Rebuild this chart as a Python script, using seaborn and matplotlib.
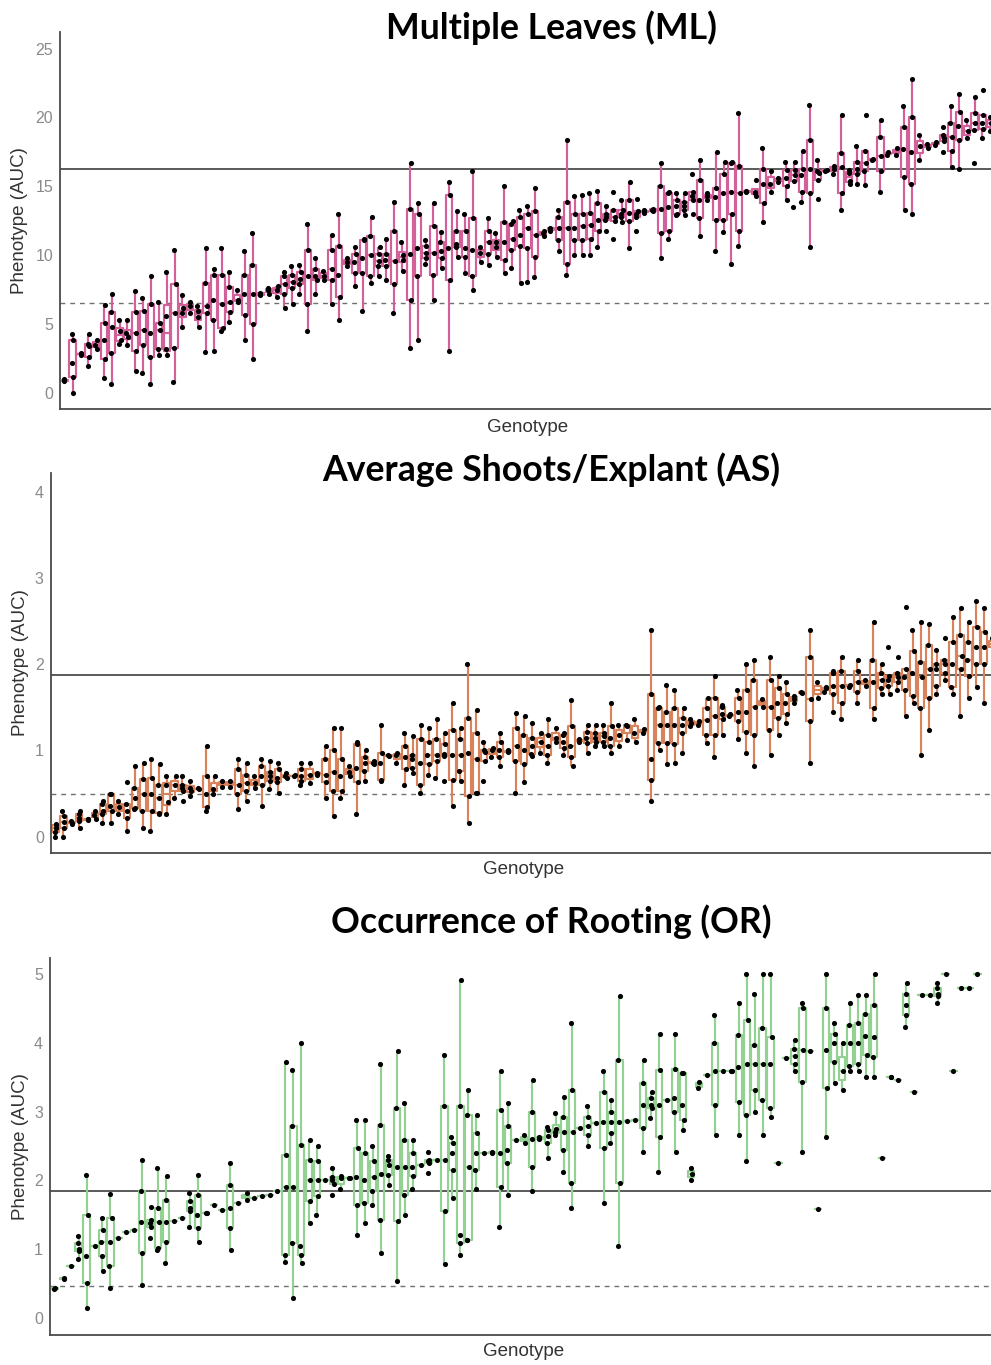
import numpy as np
import pandas as pd
import matplotlib
matplotlib.use("Agg")
import matplotlib.pyplot as plt
import seaborn as sns

# ---------------- data ----------------
ML_TITLE = "Multiple Leaves (ML)"
AS_TITLE = "Average Shoots/Explant (AS)"
OR_TITLE = "Occurrence of Rooting (OR)"

ML_VALUES = [
    [0.9, 1.0], [0.0, 1.2, 2.2, 3.9, 4.3], [2.8, 2.9, 2.85], [2.0, 2.65, 3.4, 3.6, 4.3],
    [3.2, 3.5, 3.9], [1.1, 2.5, 3.9, 5.1, 6.4], [0.7, 2.9, 4.8, 5.9, 7.2], [3.6, 3.9, 4.5, 5.3],
    [3.5, 4.1, 4.4, 5.3], [1.6, 3.1, 4.4, 5.9, 7.4], [1.5, 3.5, 4.6, 6.0, 6.9], [0.7, 2.65, 4.4, 6.5, 8.5],
    [2.8, 3.2, 4.6, 5.1, 6.6], [2.8, 3.2, 5.6, 8.8], [0.85, 3.3, 5.8, 7.9, 10.4], [4.8, 5.8, 6.2, 7.1],
    [5.8, 6.3, 6.6], [4.8, 5.5, 6.0, 6.3], [3.0, 5.8, 6.3, 8.0, 10.5], [3.1, 5.3, 6.8, 8.6, 9.0],
    [4.5, 4.7, 6.5, 8.6, 10.5], [5.2, 5.9, 6.6, 7.7, 8.8], [6.6, 6.8, 7.5], [3.9, 5.7, 7.2, 8.6, 10.3],
    [2.5, 5.0, 7.2, 9.3, 11.6], [7.1, 7.2, 7.3], [7.2, 7.5, 7.6], [7.0, 7.5, 7.8],
    [6.2, 7.2, 7.9, 8.5, 8.8], [6.5, 7.6, 8.1, 8.6, 9.2], [7.2, 7.9, 8.3, 8.8, 9.3], [4.5, 6.5, 8.5, 10.4, 12.3],
    [7.2, 8.2, 8.5, 9.0, 9.8], [8.2, 8.5, 8.9], [6.5, 8.2, 9.0, 10.4, 11.5], [5.3, 7.0, 8.6, 10.7, 13.0],
    [9.2, 9.5, 9.8], [7.8, 8.7, 9.5, 10.1, 10.6], [6.0, 8.7, 9.8, 11.1, 11.2], [8.0, 8.5, 10.0, 11.4, 12.8],
    [8.5, 9.2, 9.6, 10.1, 10.6], [8.2, 9.2, 9.7, 10.1, 11.2], [5.8, 7.9, 9.6, 11.8, 13.9], [8.9, 9.7, 10.0, 11.0],
    [3.3, 6.8, 10.1, 13.4, 16.7], [3.9, 8.5, 10.5, 13.0, 13.8], [9.4, 9.8, 10.2, 10.7, 11.1], [6.8, 8.6, 10.2, 12.1, 13.8],
    [9.1, 9.8, 10.3, 11.0, 11.7], [3.1, 8.2, 10.5, 14.4, 15.3], [9.9, 10.6, 10.8, 11.8, 13.2], [8.7, 9.9, 10.5, 11.8, 13.0],
    [7.5, 8.5, 10.4, 12.7, 16.1], [9.5, 10.2, 10.6], [9.3, 10.1, 11.0, 11.8, 12.7], [9.9, 10.6, 11.0, 11.6],
    [8.7, 9.7, 11.0, 12.4, 15.0], [9.1, 10.4, 11.2, 12.3, 12.5], [8.0, 10.7, 11.5, 12.8, 13.3], [8.1, 10.5, 12.0, 13.0, 13.6],
    [8.4, 9.9, 11.5, 13.2, 14.9], [11.4, 11.6, 11.8], [11.8, 12.0], [10.3, 11.1, 12.0, 12.8, 13.3],
    [8.6, 9.4, 12.0, 13.9, 18.4], [10.0, 11.1, 12.0, 13.0, 14.3], [10.0, 11.1, 12.1, 13.0, 14.4], [10.0, 11.2, 12.2, 13.1, 14.5],
    [10.6, 11.8, 12.6, 13.8, 14.7], [11.8, 12.6, 12.8, 13.0, 13.6], [11.2, 12.5, 12.8, 13.3, 14.6], [12.4, 12.8, 13.0, 13.3, 14.0],
    [10.5, 12.5, 13.1, 14.0, 15.3], [11.8, 12.8, 13.0, 13.2, 14.1], [13.1, 13.2, 13.3], [13.2, 13.3, 13.4],
    [9.8, 11.6, 13.4, 15.0, 16.7], [11.2, 11.8, 13.5, 14.5, 14.6], [12.9, 13.0, 13.6, 14.0, 14.5], [12.9, 13.3, 13.6, 13.9, 14.5],
    [13.0, 14.0, 14.3, 14.6, 15.9], [11.4, 12.7, 14.0, 15.5, 16.9], [14.0, 14.3, 14.5], [10.3, 12.6, 14.2, 14.9, 17.5],
    [11.7, 12.6, 14.5, 15.9, 16.8], [9.4, 13.0, 14.6, 16.7, 16.8], [10.7, 11.8, 14.5, 16.5, 20.3], [14.6, 14.7],
    [14.3, 14.5, 14.6, 15.5], [12.4, 13.8, 15.2, 16.3, 17.8], [14.6, 15.2, 16.1], [15.3, 15.6],
    [14.0, 15.0, 15.6, 16.2, 16.8], [13.5, 15.4, 15.8, 16.2, 16.8], [13.9, 14.6, 15.8, 16.3, 17.6], [10.6, 14.5, 16.3, 18.4, 20.9],
    [14.1, 15.5, 16.0, 16.1, 16.9], [16.1, 16.2], [15.9, 16.3, 16.5], [13.3, 14.5, 16.4, 17.4, 20.2],
    [15.2, 15.4, 16.0, 16.2], [15.2, 15.9, 16.3, 16.8, 17.9], [15.1, 16.1, 16.7, 17.6, 20.2], [16.9, 17.0],
    [14.6, 16.1, 17.2, 18.6, 19.8], [17.3, 17.5], [17.3, 17.8], [13.3, 15.7, 17.7, 19.3, 20.8],
    [13.0, 15.2, 17.5, 20.0, 22.8], [16.9, 17.9, 18.7], [17.8, 18.1], [18.0, 18.2],
    [17.5, 18.3, 18.5, 18.7, 19.3], [16.4, 17.6, 18.6, 19.6, 20.8], [16.3, 18.4, 19.4, 20.4, 21.7], [18.5, 19.0, 19.8],
    [16.7, 19.1, 19.6, 20.3, 21.5], [18.5, 19.2, 19.6, 20.2, 22.0], [19.0, 19.6, 20.0],
]

AS_VALUES = [
    [0.0, 0.05, 0.1, 0.13, 0.15], [0.0, 0.1, 0.17, 0.24, 0.3], [0.15, 0.16, 0.18], [0.1, 0.18, 0.22, 0.26, 0.3],
    [0.19, 0.2, 0.21], [0.2, 0.25, 0.3], [0.16, 0.26, 0.3, 0.38, 0.41], [0.16, 0.3, 0.35, 0.49, 0.5],
    [0.26, 0.34, 0.41], [0.07, 0.22, 0.3, 0.38, 0.63], [0.32, 0.33, 0.45, 0.57, 0.82], [0.1, 0.3, 0.5, 0.67, 0.86],
    [0.07, 0.3, 0.5, 0.68, 0.9], [0.26, 0.28, 0.45, 0.6, 0.84], [0.26, 0.4, 0.6, 0.7], [0.45, 0.6, 0.7],
    [0.41, 0.53, 0.57, 0.6, 0.7], [0.47, 0.53, 0.57, 0.65], [0.55, 0.56], [0.3, 0.34, 0.5, 0.7, 1.05],
    [0.5, 0.55, 0.7], [0.58, 0.65], [0.58, 0.65], [0.32, 0.49, 0.6, 0.78, 0.9],
    [0.41, 0.53, 0.62, 0.72, 0.86], [0.57, 0.62, 0.7], [0.36, 0.6, 0.7, 0.82, 0.9], [0.55, 0.65, 0.7, 0.75, 0.88],
    [0.51, 0.63, 0.68, 0.78, 0.86], [0.68, 0.7, 0.74], [0.7, 0.71], [0.6, 0.65, 0.7, 0.78, 0.86],
    [0.62, 0.72, 0.86], [0.72, 0.74], [0.45, 0.63, 0.72, 0.9, 1.05], [0.24, 0.53, 0.75, 1.0, 1.26],
    [0.45, 0.53, 0.7, 0.9, 1.26], [0.7, 0.75, 0.82], [0.26, 0.63, 0.8, 1.07, 1.1], [0.65, 0.76, 0.85, 0.92, 1.0],
    [0.84, 0.86, 0.88], [0.65, 0.66, 0.85, 0.97, 1.3], [0.93, 0.95], [0.86, 0.95, 0.97],
    [0.6, 0.78, 0.92, 1.05, 1.2], [0.74, 0.8, 0.9, 0.95, 1.17], [0.51, 0.6, 0.85, 1.13, 1.3], [0.72, 0.84, 0.95, 1.1, 1.26],
    [0.68, 0.88, 0.95, 1.13, 1.36], [0.65, 0.93, 0.96, 1.07, 1.2], [0.36, 0.66, 0.95, 1.24, 1.55], [0.65, 0.76, 0.95, 1.13, 1.26],
    [0.16, 0.47, 0.97, 1.38, 2.0], [0.51, 0.51, 0.9, 1.2, 1.47], [0.65, 0.88, 0.98, 1.0, 1.1], [0.92, 1.0, 1.03],
    [0.82, 0.92, 1.0, 1.1, 1.2], [0.98, 1.0], [0.51, 0.88, 1.05, 1.26, 1.43], [0.63, 0.84, 1.0, 1.18, 1.4],
    [0.94, 0.96, 1.05, 1.15, 1.32], [0.97, 1.1, 1.2], [0.86, 0.95, 1.05, 1.18, 1.36], [1.1, 1.15, 1.26],
    [0.95, 1.03, 1.1, 1.18, 1.2], [0.82, 0.92, 1.05, 1.28, 1.59], [1.1, 1.13], [0.97, 1.09, 1.15, 1.22, 1.3],
    [1.05, 1.1, 1.15, 1.2, 1.3], [1.05, 1.1, 1.17, 1.2, 1.3], [0.97, 1.05, 1.15, 1.28, 1.55], [1.05, 1.18, 1.3],
    [1.12, 1.28, 1.3], [1.1, 1.2, 1.36], [1.2, 1.25], [0.41, 0.66, 0.9, 1.65, 2.4], [1.0, 1.09, 1.3, 1.49, 1.51],
    [0.84, 1.09, 1.3, 1.45, 1.76], [0.86, 1.07, 1.3, 1.49, 1.7], [0.97, 1.2, 1.3, 1.38, 1.49], [1.28, 1.32, 1.36],
    [1.3, 1.34],
    [1.09, 1.18, 1.35, 1.49, 1.61], [0.92, 1.18, 1.4, 1.61, 1.86], [1.18, 1.36, 1.42, 1.5, 1.53], [1.4, 1.42],
    [1.13, 1.34, 1.45, 1.61, 1.7], [0.97, 1.22, 1.45, 1.7, 2.0], [0.82, 1.18, 1.5, 1.82, 2.05], [1.51, 1.6],
    [0.95, 1.24, 1.5, 1.82, 2.09], [1.18, 1.38, 1.55, 1.72, 1.86], [1.32, 1.42, 1.55, 1.65, 1.8], [1.55, 1.6, 1.63],
    [1.67, 1.68], [0.86, 1.34, 1.6, 2.09, 2.4], [1.61, 1.8], [1.68, 1.72, 1.74],
    [1.45, 1.66, 1.75, 1.9, 1.92], [1.36, 1.55, 1.75, 1.92, 2.09], [1.74, 1.76], [1.55, 1.68, 1.8, 1.92, 2.05],
    [1.75, 1.82], [1.36, 1.49, 1.8, 2.05, 2.49], [1.65, 1.72, 1.82, 1.9, 2.0], [1.65, 1.75, 1.82, 1.86, 2.2],
    [1.7, 1.8, 1.85, 1.9, 2.09], [1.4, 1.7, 1.85, 1.95, 2.67], [1.55, 1.63, 1.9, 2.15, 2.4], [0.95, 1.49, 1.85, 2.03, 2.49],
    [1.24, 1.61, 1.95, 2.22, 2.47], [1.65, 1.75, 1.95, 2.0, 2.17], [1.82, 1.9, 2.0, 2.05, 2.3], [1.65, 1.74, 2.0, 2.26, 2.55],
    [1.4, 1.95, 2.1, 2.34, 2.65], [1.61, 1.86, 2.05, 2.26, 2.49], [1.74, 2.0, 2.2, 2.43, 2.74], [1.55, 2.0, 2.2, 2.38, 2.65],
    [2.17, 2.3],
]

OR_VALUES = [
    [0.42, 0.44], [0.57, 0.58], [0.75], [0.85, 0.97, 1.0, 1.09, 1.19],
    [0.14, 0.5, 0.9, 1.5, 2.08], [1.04], [0.68, 0.9, 1.1, 1.28, 1.45], [0.44, 0.75, 1.1, 1.45, 1.8],
    [1.16], [1.25], [1.28], [0.48, 0.94, 1.4, 1.84, 2.3],
    [1.16, 1.33, 1.38, 1.43, 1.62], [0.99, 1.02, 1.4, 1.6, 2.18], [0.8, 1.11, 1.4, 1.72, 2.06], [1.41],
    [1.45], [1.33, 1.55, 1.6, 1.7, 1.82], [1.11, 1.31, 1.5, 1.79, 2.08], [1.52, 1.53],
    [1.65], [1.57], [0.99, 1.31, 1.6, 1.94, 2.25], [1.67],
    [1.72, 1.82], [1.74], [1.77], [1.79], [1.84],
    [0.82, 0.92, 1.9, 2.37, 3.73], [0.29, 1.09, 1.91, 2.79, 3.61], [0.8, 0.92, 1.04, 2.52, 4.0], [1.38, 1.7, 2.0, 2.3, 2.59],
    [1.5, 1.77, 2.0, 2.28, 2.5], [2.01], [1.79, 1.95, 2.0, 2.05, 2.18], [1.87, 2.03, 2.06],
    [2.03, 2.04], [1.21, 1.65, 2.05, 2.47, 2.88], [1.38, 1.67, 2.0, 2.4, 2.88], [1.65, 1.84, 2.05, 2.28, 2.5],
    [0.94, 1.43, 2.1, 2.81, 3.7], [1.94, 2.08, 2.23, 2.3, 2.35], [0.53, 1.41, 2.2, 3.05, 3.88], [1.5, 1.79, 2.2, 2.59, 3.13],
    [1.87, 2.06, 2.2, 2.4, 2.59], [2.23], [2.11, 2.25, 2.28, 2.3, 2.42], [2.3],
    [0.78, 1.55, 2.3, 3.08, 3.83], [1.74, 2.16, 2.4, 2.54, 2.64], [0.92, 1.09, 1.2, 3.08, 4.92], [1.14, 1.14, 2.2, 2.96, 3.32],
    [1.87, 2.16, 2.4, 2.69, 2.96], [2.4], [2.4, 2.42], [1.33, 1.91, 2.4, 3.03, 3.59],
    [1.79, 2.25, 2.45, 2.79, 3.13], [2.59], [2.54, 2.66], [1.84, 2.2, 2.6, 3.0, 3.46],
    [2.6, 2.64], [2.33, 2.55, 2.65, 2.74, 2.78], [2.66, 2.7, 2.75, 2.98], [2.13, 2.45, 2.7, 2.93, 3.22],
    [1.6, 1.96, 2.7, 3.32, 4.29], [2.76], [2.5, 2.66, 2.8, 2.93, 3.08], [2.83],
    [1.67, 2.47, 2.85, 3.29, 3.59], [2.54, 2.69, 2.85, 3.0, 3.17], [1.04, 1.96, 2.85, 3.75, 4.68], [2.86],
    [2.88], [2.42, 2.76, 3.1, 3.42, 3.75], [2.91, 3.05, 3.1, 3.2, 3.29], [2.13, 2.64, 3.1, 3.61, 4.14],
    [3.17], [2.42, 3.0, 3.2, 3.63, 4.14], [2.74, 2.88, 3.1, 3.56, 3.56], [2.01, 2.1, 2.18],
    [3.34, 3.44], [3.54], [2.66, 3.1, 3.6, 4.0, 4.41], [3.59],
    [3.59, 3.6], [2.66, 3.15, 3.65, 4.12, 4.58], [2.28, 2.96, 3.7, 4.34, 5.0], [3.0, 3.32, 3.7, 3.97, 4.72],
    [2.66, 3.17, 3.7, 4.22, 5.0], [2.93, 3.05, 3.7, 4.09, 5.0], [2.25], [3.78],
    [3.59, 3.7, 3.82, 3.92, 4.05], [2.42, 3.44, 3.9, 4.51, 4.58], [3.88], [1.58],
    [2.64, 3.34, 3.9, 4.51, 5.0], [3.42, 3.73, 4.0, 4.14, 4.29], [3.32, 3.6, 4.0], [3.59, 3.66, 4.0, 4.26, 4.58],
    [3.59, 3.7, 4.0, 4.29, 4.7], [3.51, 3.83, 4.1, 4.43, 4.7], [3.51, 3.8, 4.09, 4.55, 5.0], [2.33],
    [3.5, 3.51], [3.46], [4.24, 4.41, 4.55, 4.72, 4.87], [3.29],
    [4.7], [4.7], [4.58, 4.68, 4.72, 4.8, 4.87], [5.0],
    [3.59], [4.8], [4.8], [5.0],
]

ML_LINES = (16.3, 6.57)   # solid, dashed
AS_LINES = (1.87, 0.50)
OR_LINES = (1.85, 0.47)

ML_YTICKS = [0, 5, 10, 15, 20, 25]
AS_YTICKS = [0, 1, 2, 3, 4]
OR_YTICKS = [0, 1, 2, 3, 4, 5]

N_GENOTYPES = 119
X_LABEL = "Genotype"
Y_LABEL = "Phenotype (AUC)"

ML_COLOR = "#d4609a"
AS_COLOR = "#d9835c"
OR_COLOR = "#93d193"

# ---------------- style ----------------
sns.set_style("white")
plt.rcParams["font.family"] = ["Liberation Sans", "DejaVu Sans"]

W, H = 991, 1365
fig = plt.figure(figsize=(W / 100, H / 100), dpi=100)


def px_axes(left, top, right, bottom):
    return fig.add_axes([left / W, 1 - bottom / H, (right - left) / W, (bottom - top) / H])


def panel(ax, values, color, lines, ylim, yticks, xlabel_y, label_x):
    names = [f"G{i:03d}" for i in range(len(values))]
    rows = [(names[i], v) for i, vals in enumerate(values) for v in vals]
    df = pd.DataFrame(rows, columns=["genotype", "value"])
    ax.axhline(lines[0], color="#5a5a5a", lw=1.4, zorder=0.5)
    ax.axhline(lines[1], color="#707070", lw=1.0, ls=(0, (3.5, 3.5)), zorder=0.5)
    sns.boxplot(data=df, x="genotype", y="value", order=names, ax=ax,
                fill=False, color=color, saturation=1, width=0.8,
                linewidth=1.55, showfliers=False, whis=1.5,
                capprops={"linewidth": 0})
    sns.stripplot(data=df, x="genotype", y="value", order=names, ax=ax,
                  color="black", size=3.7, jitter=0.14, zorder=3)
    ax.set_xlim(-0.6, N_GENOTYPES - 0.4)
    ax.set_ylim(*ylim)
    ax.set_xticks(np.arange(N_GENOTYPES))
    ax.set_xticklabels([])
    ax.set_yticks(yticks)
    ax.set_yticklabels([str(t) for t in yticks])
    ax.tick_params(axis="x", length=2.5, width=0.8, color="#555555", direction="out")
    ax.tick_params(axis="y", length=3, width=0.8, color="#555555", direction="out",
                   labelsize=11.5, labelcolor="#8a8a8a", pad=2)
    for s in ("top", "right"):
        ax.spines[s].set_visible(False)
    for s in ("left", "bottom"):
        ax.spines[s].set_color("#4a4a4a")
        ax.spines[s].set_linewidth(1.3)
    ax.set_xlabel("")
    ax.set_ylabel("")
    pos = ax.get_position()
    fig.text(label_x / W, pos.y0 + pos.height / 2, Y_LABEL, rotation=90,
             ha="center", va="center", fontsize=13.5, color="#333333")
    fig.text(pos.x0 + pos.width / 2, 1 - xlabel_y / H, X_LABEL,
             ha="center", va="center", fontsize=13.5, color="#333333")


ax1 = px_axes(60, 32, 995, 409)
panel(ax1, ML_VALUES, ML_COLOR, ML_LINES, (-1.14, 26.2), ML_YTICKS, 427, 20)
ax2 = px_axes(50.7, 473, 997, 853)
panel(ax2, AS_VALUES, AS_COLOR, AS_LINES, (-0.19, 4.22), AS_YTICKS, 869, 21)
ax3 = px_axes(50, 958, 998, 1335)
panel(ax3, OR_VALUES, OR_COLOR, OR_LINES, (-0.25, 5.24), OR_YTICKS, 1352, 21)

TITLE_FONT = ["Lato", "DejaVu Sans"]
for txt, yc in ((ML_TITLE, 28), (AS_TITLE, 470), (OR_TITLE, 922)):
    fig.text(551 / W, 1 - yc / H, txt, ha="center", va="center", fontsize=25.7,
             fontweight="bold", family=TITLE_FONT, color="black")

fig.savefig("out.png", dpi=100)
